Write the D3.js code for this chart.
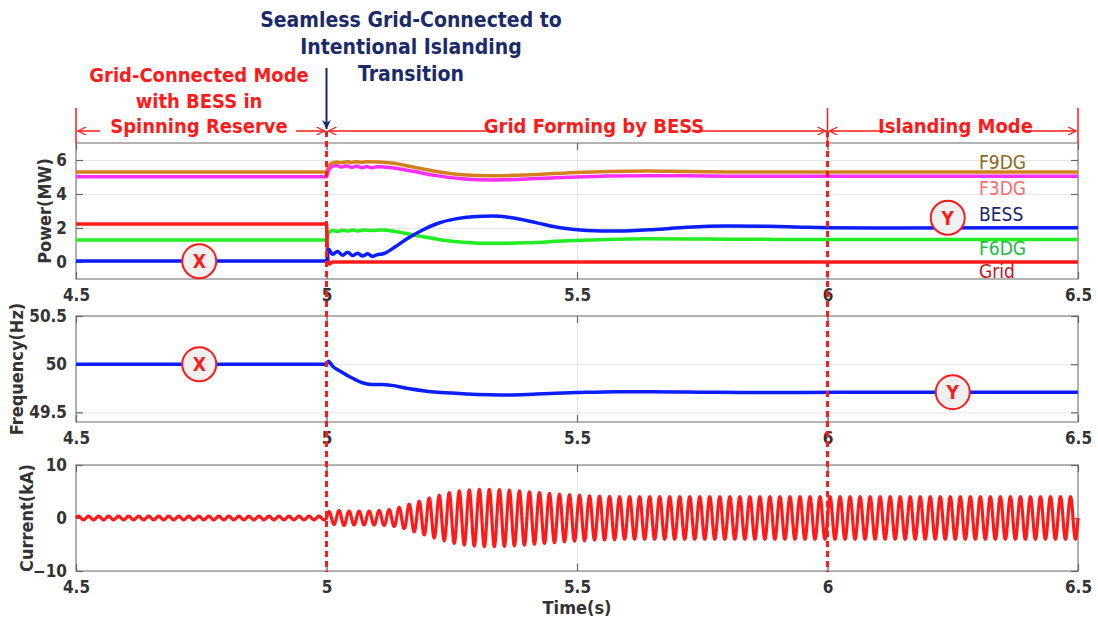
<!DOCTYPE html>
<html>
<head>
<meta charset="utf-8">
<script src="https://cdn.jsdelivr.net/npm/d3@7"></script>
<style>
  body { margin: 0; background: #fff; }
  svg { display: block; }
</style>
</head>
<body>
<div id="chart"></div>
<script>
// Time axis ticks (s)
const timeTicks = [4.5, 5, 5.5, 6, 6.5];
const powerTicks = [0, 2, 4, 6];
const freqTicks = [49.5, 50, 50.5];
const currentTicks = [-10, 0, 10];

// Power (MW): [time, value]
const f9dg = [[4.5,5.3],[5.0,5.3],[5.003,5.55],[5.01,5.8],[5.02,5.88],[5.03,5.84],[5.04,5.9],[5.05,5.86],[5.06,5.9],[5.07,5.87],[5.08,5.9],[5.1,5.88],[5.13,5.82],[5.17,5.6],[5.22,5.32],[5.27,5.13],[5.33,5.07],[5.4,5.12],[5.48,5.24],[5.56,5.33],[5.64,5.35],[5.72,5.32],[5.8,5.3],[5.9,5.29],[6.0,5.3],[6.5,5.3]];
const f3dg = [[4.5,5.02],[5.0,5.02],[5.003,5.3],[5.01,5.6],[5.02,5.68],[5.03,5.58],[5.04,5.66],[5.05,5.56],[5.06,5.64],[5.07,5.55],[5.08,5.62],[5.09,5.54],[5.1,5.6],[5.13,5.55],[5.17,5.35],[5.22,5.08],[5.27,4.9],[5.33,4.83],[5.4,4.88],[5.48,4.98],[5.56,5.06],[5.64,5.08],[5.72,5.07],[5.8,5.05],[5.9,5.04],[6.0,5.04],[6.5,5.04]];
const f6dg = [[4.5,1.3],[5.0,1.3],[5.004,1.7],[5.012,1.85],[5.022,1.8],[5.032,1.87],[5.042,1.82],[5.052,1.88],[5.062,1.83],[5.075,1.88],[5.09,1.86],[5.11,1.88],[5.14,1.78],[5.18,1.55],[5.23,1.3],[5.28,1.15],[5.33,1.1],[5.4,1.13],[5.48,1.25],[5.56,1.33],[5.64,1.37],[5.72,1.36],[5.8,1.34],[5.9,1.33],[6.0,1.33],[6.5,1.33]];
const bess = [[4.5,0.06],[5.0,0.06],[5.004,0.75],[5.012,0.45],[5.022,0.62],[5.032,0.4],[5.042,0.58],[5.052,0.38],[5.062,0.52],[5.072,0.35],[5.082,0.48],[5.092,0.33],[5.1,0.42],[5.115,0.5],[5.135,0.85],[5.16,1.35],[5.19,1.85],[5.22,2.25],[5.26,2.55],[5.3,2.68],[5.33,2.7],[5.37,2.6],[5.42,2.3],[5.47,2.0],[5.52,1.86],[5.58,1.82],[5.65,1.9],[5.72,2.05],[5.8,2.12],[5.88,2.1],[5.95,2.05],[6.0,2.02],[6.1,2.0],[6.5,2.02]];
const grid = [[4.5,2.24],[5.0,2.24],[5.002,0.4],[5.006,-0.12],[5.012,0],[6.5,0]];

// Frequency (Hz)
const freq = [[4.5,50],[5.0,50],[5.004,50.03],[5.012,49.98],[5.03,49.92],[5.05,49.86],[5.07,49.81],[5.09,49.79],[5.11,49.79],[5.13,49.78],[5.16,49.75],[5.2,49.72],[5.25,49.7],[5.3,49.685],[5.35,49.68],[5.42,49.69],[5.5,49.705],[5.58,49.715],[5.65,49.715],[5.75,49.71],[5.85,49.705],[5.95,49.705],[6.1,49.71],[6.5,49.71]];

// Current: 50 Hz waveform, peak amplitude (kA) of each 20 ms cycle from 4.5 s
const cyclePeak = [
  0.35,0.35,0.35,0.35,0.35,0.35,0.35,0.35,0.35,0.35,0.35,0.35,0.35,0.35,0.35,0.35,0.35,0.35,0.35,0.35,0.35,0.35,0.35,0.35,0.35,
  1.2,1.4,1.3,1.3,1.3,1.4,1.6,2.0,2.6,3.2,3.8,4.3,4.8,5.1,5.3,5.4,5.4,5.35,5.25,5.1,
  4.95,4.8,4.65,4.5,4.4,4.3,4.2,4.15,4.1,4.05,
  4.05,4.05,4.05,4.05,4.05,4.05,4.05,4.05,4.05,4.05,4.05,4.05,4.05,4.05,4.05,
  4.05,4.05,4.05,4.05,4.05,4.05,4.05,4.05,4.05,4.05,4.05,4.05,4.05,4.05,4.05,
  4.05,4.05,4.05,4.05,4.05,4.05,4.05,4.05,4.05,4.05,4.05,4.05,4.05,4.05,4.05
];
const lineFreq = 50;

const legendNames = ["F9DG", "F3DG", "BESS", "F6DG", "Grid"];
const legendColors = ["#8a6a1c", "#ff6b6b", "#1b2a6b", "#22bb44", "#c8141e"];

function createChart() {
    const width = 1098, height = 624;
    const x0 = 76, x1 = 1078;
    const FONT = "'Liberation Sans Narrow','DejaVu Sans Condensed','Roboto Condensed',sans-serif";
    const RED = "#ff1a1a", NAVY = "#1b2a6b";

    const svg = d3.create("svg")
        .attr("width", width)
        .attr("height", height)
        .style("background", "#fff")
        .style("font-family", FONT);

    const x = d3.scaleLinear().domain([4.5, 6.5]).range([x0, x1]);

    // Panels
    const panels = [
        { top: 143, bottom: 279, domain: [-1, 7], ticks: powerTicks, title: "Power(MW)", tx: 45 },
        { top: 316, bottom: 422, domain: [49.4, 50.5], ticks: freqTicks, title: "Frequency(Hz)", tx: 17 },
        { top: 465, bottom: 571, domain: [-10, 10], ticks: currentTicks, title: "Current(kA)", tx: 27 }
    ];
    panels.forEach(p => p.y = d3.scaleLinear().domain(p.domain).range([p.bottom, p.top]));

    panels.forEach((p, i) => {
        const g = svg.append("g");
        const h = p.bottom - p.top;

        // light grid
        g.append("g")
            .attr("transform", `translate(${x0},0)`)
            .call(d3.axisLeft(p.y).tickValues(p.ticks).tickSize(-(x1 - x0)).tickFormat(""))
            .call(a => a.select(".domain").remove())
            .call(a => a.selectAll("line").attr("stroke", "#e6e6e6").attr("stroke-width", 1));
        g.append("g")
            .attr("transform", `translate(0,${p.bottom})`)
            .call(d3.axisBottom(x).tickValues(timeTicks).tickSize(-h).tickFormat(""))
            .call(a => a.select(".domain").remove())
            .call(a => a.selectAll("line").attr("stroke", "#e6e6e6").attr("stroke-width", 1));

        // box
        g.append("rect")
            .attr("x", x0).attr("y", p.top)
            .attr("width", x1 - x0).attr("height", h)
            .attr("fill", "none").attr("stroke", "#9a9a9a").attr("stroke-width", 1.5);

        // axes with inward ticks
        const yl = g.append("g")
            .attr("transform", `translate(${x0},0)`)
            .call(d3.axisLeft(p.y).tickValues(p.ticks).tickSize(-7).tickPadding(9).tickFormat(d3.format("")));
        const yr = g.append("g")
            .attr("transform", `translate(${x1},0)`)
            .call(d3.axisRight(p.y).tickValues(p.ticks).tickSize(-7).tickFormat(""));
        const xb = g.append("g")
            .attr("transform", `translate(0,${p.bottom})`)
            .call(d3.axisBottom(x).tickValues(timeTicks).tickSize(-7).tickPadding(10).tickFormat(d3.format("")));
        const xt = g.append("g")
            .attr("transform", `translate(0,${p.top})`)
            .call(d3.axisTop(x).tickValues(timeTicks).tickSize(-7).tickFormat(""));
        [yl, yr, xb, xt].forEach(a => {
            a.select(".domain").remove();
            a.selectAll("line").attr("stroke", "#666").attr("stroke-width", 1.2);
            a.selectAll("text")
                .attr("fill", "#333")
                .style("font-family", FONT)
                .style("font-size", "17px")
                .style("font-weight", "bold");
        });

        g.append("text")
            .attr("transform", `translate(${p.tx},${(p.top + p.bottom) / 2}) rotate(-90)`)
            .attr("text-anchor", "middle")
            .attr("dy", "0.35em")
            .attr("fill", "#333")
            .style("font-size", "18px")
            .style("font-weight", "bold")
            .text(p.title);
    });

    // Power lines
    const pw = panels[0];
    const powerLine = d3.line().x(d => x(d[0])).y(d => pw.y(d[1])).curve(d3.curveMonotoneX);
    const powerSeries = [
        { data: f9dg, color: "#d4801f" },
        { data: f3dg, color: "#ff2eff" },
        { data: f6dg, color: "#22ec22" },
        { data: grid, color: RED },
        { data: bess, color: "#0a1eff" }
    ];
    svg.append("g")
        .selectAll("path")
        .data(powerSeries)
        .join("path")
        .attr("d", d => powerLine(d.data))
        .attr("fill", "none")
        .attr("stroke", d => d.color)
        .attr("stroke-width", 3.5)
        .attr("stroke-linejoin", "round");

    // Frequency line
    const fq = panels[1];
    svg.append("path")
        .attr("d", d3.line().x(d => x(d[0])).y(d => fq.y(d[1])).curve(d3.curveMonotoneX)(freq))
        .attr("fill", "none")
        .attr("stroke", "#0a1eff")
        .attr("stroke-width", 3.5);

    // Current waveform
    const cu = panels[2];
    const period = 1 / lineFreq;
    const steps = 16;
    const wave = [];
    cyclePeak.forEach((a, i) => {
        for (let k = 0; k < steps; k++) {
            wave.push([4.5 + (i + k / steps) * period, a * Math.sin(2 * Math.PI * k / steps)]);
        }
    });
    wave.push([6.5, 0]);
    svg.append("path")
        .attr("d", d3.line().x(d => x(d[0])).y(d => cu.y(d[1])).curve(d3.curveCardinal)(wave))
        .attr("fill", "none")
        .attr("stroke", RED)
        .attr("stroke-width", 3.2);

    // Legend labels inside power panel
    const legendY = [162, 188, 214, 248, 271];
    svg.append("g")
        .selectAll("text")
        .data(legendNames)
        .join("text")
        .attr("x", 979)
        .attr("y", (d, i) => legendY[i])
        .attr("dy", "0.35em")
        .attr("fill", (d, i) => legendColors[i])
        .style("font-size", "19px")
        .text(d => d);

    // Dashed transition markers
    [5, 6].forEach(t => {
        svg.append("line")
            .attr("x1", x(t)).attr("x2", x(t))
            .attr("y1", 131).attr("y2", 572)
            .attr("stroke", RED).attr("stroke-width", 3)
            .attr("stroke-dasharray", "6,4");
    });

    // Circled markers X / Y
    const markers = [
        { label: "X", cx: x(4.746), cy: pw.y(0.05) },
        { label: "Y", cx: x(6.24), cy: pw.y(2.6) },
        { label: "X", cx: x(4.746), cy: fq.y(50) },
        { label: "Y", cx: x(6.25), cy: fq.y(49.71) }
    ];
    const mk = svg.append("g").selectAll("g").data(markers).join("g")
        .attr("transform", d => `translate(${d.cx},${d.cy})`);
    mk.append("circle").attr("r", 17).attr("fill", "#f0f0f0").attr("stroke", RED).attr("stroke-width", 2);
    mk.append("text")
        .attr("text-anchor", "middle").attr("dy", "0.36em")
        .attr("fill", RED)
        .style("font-size", "19px").style("font-weight", "bold")
        .text(d => d.label);

    // Dimension lines with arrows at the top
    const dimY = 131;
    const defs = svg.append("defs");
    defs.append("marker")
        .attr("id", "redArrow")
        .attr("viewBox", "0 0 10 10")
        .attr("refX", 10).attr("refY", 5)
        .attr("markerWidth", 11).attr("markerHeight", 8)
        .attr("markerUnits", "userSpaceOnUse")
        .attr("orient", "auto-start-reverse")
        .append("path").attr("d", "M0,0 L10,5 L0,10").attr("fill", "none").attr("stroke", RED).attr("stroke-width", 1.6);
    defs.append("marker")
        .attr("id", "navyArrow")
        .attr("viewBox", "0 0 10 10")
        .attr("refX", 10).attr("refY", 5)
        .attr("markerWidth", 18).attr("markerHeight", 9)
        .attr("markerUnits", "userSpaceOnUse")
        .attr("orient", "auto")
        .append("path").attr("d", "M0,0 L10,5 L0,10 L3,5 Z").attr("fill", NAVY);

    [4.5, 6, 6.5].forEach(t => {
        svg.append("line")
            .attr("x1", x(t)).attr("x2", x(t))
            .attr("y1", 108).attr("y2", 143)
            .attr("stroke", RED).attr("stroke-width", 1.5);
    });

    const spans = [
        { from: 4.5, to: 5, label: "Spinning Reserve", gap: [100, 296], ty: null },
        { from: 5, to: 6, label: "Grid Forming by BESS", gap: [496, 692], ty: 126 },
        { from: 6, to: 6.5, label: "Islanding Mode", gap: [886, 1025], ty: 126 }
    ];
    spans.forEach(s => {
        const a = x(s.from) + 2, b = x(s.to) - 2;
        svg.append("line")
            .attr("x1", s.gap[0]).attr("x2", a).attr("y1", dimY).attr("y2", dimY)
            .attr("stroke", RED).attr("stroke-width", 1.5)
            .attr("marker-end", "url(#redArrow)");
        svg.append("line")
            .attr("x1", s.gap[1]).attr("x2", b).attr("y1", dimY).attr("y2", dimY)
            .attr("stroke", RED).attr("stroke-width", 1.5)
            .attr("marker-end", "url(#redArrow)");
        if (s.ty) {
            svg.append("text")
                .attr("x", (s.gap[0] + s.gap[1]) / 2).attr("y", s.ty + 7)
                .attr("text-anchor", "middle")
                .attr("fill", RED)
                .style("font-size", "20px").style("font-weight", "bold")
                .text(s.label);
        }
    });

    // Red mode label (left)
    const leftLines = ["Grid-Connected Mode", "with BESS in", "Spinning Reserve"];
    svg.append("g").selectAll("text").data(leftLines).join("text")
        .attr("x", 199).attr("y", (d, i) => 82 + i * 25.5)
        .attr("text-anchor", "middle")
        .attr("fill", RED)
        .style("font-size", "20px").style("font-weight", "bold")
        .text(d => d);

    // Navy transition label + arrow
    const navyLines = ["Seamless Grid-Connected to", "Intentional Islanding", "Transition"];
    svg.append("g").selectAll("text").data(navyLines).join("text")
        .attr("x", 411).attr("y", (d, i) => 27 + i * 27)
        .attr("text-anchor", "middle")
        .attr("fill", NAVY)
        .style("font-size", "21px").style("font-weight", "bold")
        .text(d => d);
    svg.append("line")
        .attr("x1", x(5)).attr("x2", x(5))
        .attr("y1", 68).attr("y2", 129)
        .attr("stroke", NAVY).attr("stroke-width", 2)
        .attr("marker-end", "url(#navyArrow)");

    // Time label
    svg.append("text")
        .attr("x", x(5.5)).attr("y", 614)
        .attr("text-anchor", "middle")
        .attr("fill", "#333")
        .style("font-size", "18px").style("font-weight", "bold")
        .text("Time(s)");

    return svg.node();
}

document.getElementById("chart").appendChild(createChart());
</script>
</body>
</html>
